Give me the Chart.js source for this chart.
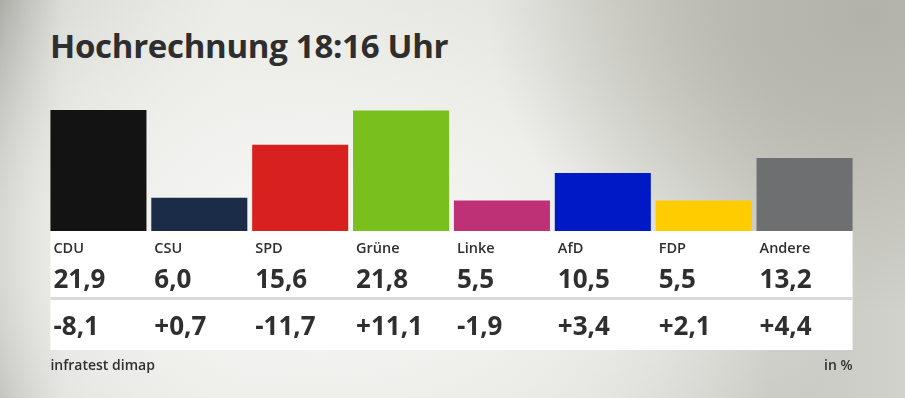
<!DOCTYPE html>
<html lang="de">
<head>
<meta charset="utf-8">
<title>Hochrechnung 18:16 Uhr</title>
<script src="https://cdn.jsdelivr.net/npm/chart.js@4"></script>
<style>
  html, body { margin: 0; padding: 0; }
  body { width: 905px; height: 398px; overflow: hidden; font-family: 'Open Sans', 'Noto Sans', sans-serif; }
  .wrap {
    position: relative; width: 905px; height: 398px;
    background:
      radial-gradient(ellipse 42% 75% at 96% 4%, rgba(178,178,168,1) 0%, rgba(182,182,172,0.85) 35%, rgba(190,190,182,0) 100%),
      radial-gradient(ellipse 60% 85% at 36% 62%, rgba(248,248,246,1) 0%, rgba(240,240,237,0.9) 45%, rgba(236,236,232,0) 100%),
      linear-gradient(90deg, #a6a6a1 0%, #d6d6d2 7%, #e8e8e5 25%, #dededa 60%, #c8c8c2 85%, #d2d2cd 100%);
  }
  h1 {
    position: absolute; left: 50px; top: 23px; margin: 0;
    font-size: 33px; font-weight: 700; color: #2e2e2e; letter-spacing: -0.3px;
  }
  canvas { position: absolute; left: 0; top: 0; }
</style>
</head>
<body>
<div class="wrap">
  <h1>Hochrechnung 18:16 Uhr</h1>
  <canvas id="chart" width="905" height="398"></canvas>
</div>
<script>
// ── data ──
const parties = ['CDU', 'CSU', 'SPD', 'Grüne', 'Linke', 'AfD', 'FDP', 'Andere'];
const shares = [21.9, 6.0, 15.6, 21.8, 5.5, 10.5, 5.5, 13.2];
const changes = [-8.1, 0.7, -11.7, 11.1, -1.9, 3.4, 2.1, 4.4];
const partyColors = ['#131313', '#1a2c48', '#d8201e', '#79bf1d', '#bf3177', '#0019c6', '#ffcc00', '#6e6f71'];
const source = 'infratest dimap';
const unit = 'in %';

function fmt(v, signed) {
  const s = Math.abs(v).toFixed(1).replace('.', ',');
  if (!signed) return s;
  return (v < 0 ? '-' : '+') + s;
}

// white table under the bars with party, share and change
const tablePlugin = {
  id: 'table',
  afterDraw(chart) {
    const ctx = chart.ctx;
    const bars = chart.getDatasetMeta(0).data;
    const first = bars[0], last = bars[bars.length - 1];
    const left = first.x - first.width / 2;
    const right = last.x + last.width / 2;
    const top = chart.chartArea.bottom;

    ctx.save();
    ctx.fillStyle = '#ffffff';
    ctx.fillRect(left, top, right - left, 119);
    ctx.fillStyle = '#dadad8';
    ctx.fillRect(left, top + 66, right - left, 3);

    ctx.fillStyle = '#2f2f2f';
    ctx.textBaseline = 'alphabetic';
    ctx.textAlign = 'left';
    bars.forEach((b, i) => {
      const x = b.x - b.width / 2 + 3;
      ctx.font = '600 14.5px "Open Sans", sans-serif';
      ctx.fillText(parties[i], x, top + 22);
      ctx.font = '700 26px "Open Sans", sans-serif';
      ctx.fillText(fmt(shares[i], false), x, top + 57);
      ctx.fillText(fmt(changes[i], true), x, top + 104);
    });

    ctx.font = '600 14px "Open Sans", sans-serif';
    ctx.fillText(source, left, top + 139);
    ctx.textAlign = 'right';
    ctx.fillText(unit, right, top + 139);
    ctx.restore();
  }
};

new Chart(document.getElementById('chart'), {
  type: 'bar',
  data: {
    labels: parties,
    datasets: [{
      data: shares,
      backgroundColor: partyColors,
      borderWidth: 0,
      barPercentage: 0.952,
      categoryPercentage: 1
    }]
  },
  options: {
    responsive: false,
    animation: false,
    layout: { padding: { left: 48, right: 50, top: 110, bottom: 167 } },
    plugins: { legend: { display: false }, tooltip: { enabled: false } },
    scales: {
      x: { display: false },
      y: { display: false, min: 0, max: 21.9 }
    }
  },
  plugins: [tablePlugin]
});
</script>
</body>
</html>
